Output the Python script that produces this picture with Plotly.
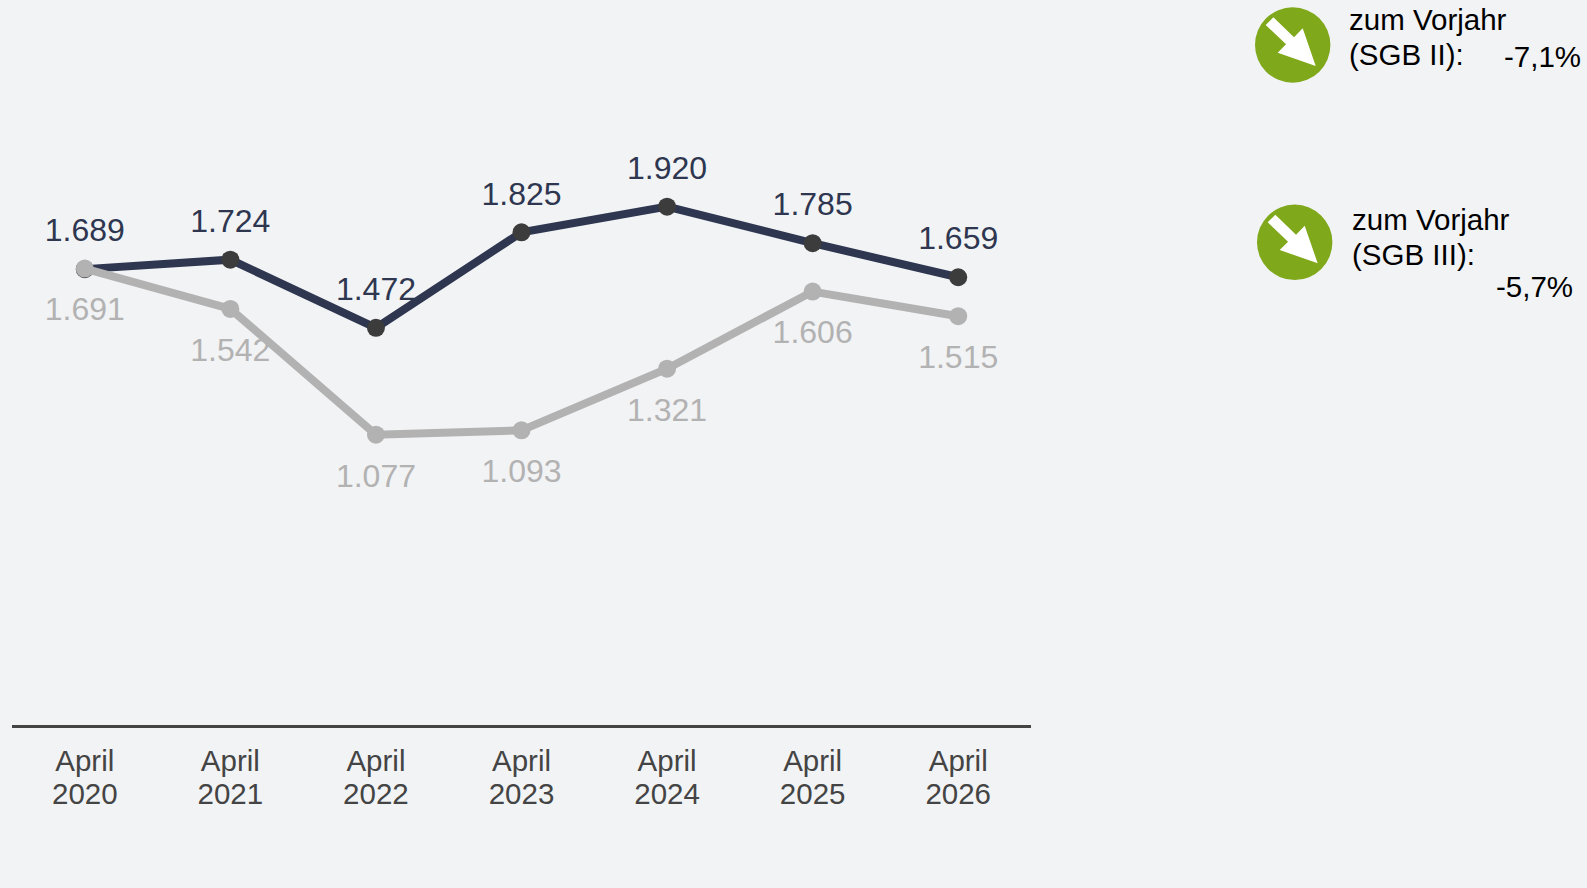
import plotly.graph_objects as go

years = [2020, 2021, 2022, 2023, 2024, 2025, 2026]
tick_month = ["April"] * 7
tick_year = [str(y) for y in years]
sgb2 = [1689, 1724, 1472, 1825, 1920, 1785, 1659]
sgb3 = [1691, 1542, 1077, 1093, 1321, 1606, 1515]
label2 = ["1.689", "1.724", "1.472", "1.825", "1.920", "1.785", "1.659"]
label3 = ["1.691", "1.542", "1.077", "1.093", "1.321", "1.606", "1.515"]

W, H = 1587, 888
L, R, T, B = 12, 1031, 185, 725
FONT = "Liberation Sans"
BG = "#F2F3F5"
DARK = "#2E3650"
MARK = "#3C3C3C"
GRAY = "#B2B2B2"
GREEN = "#7FA81B"
TICK = "#444444"

def px(x):
    return (x - L) / (R - L)

def py(y):
    return (B - y) / (B - T)

fig = go.Figure()
fig.add_trace(go.Scatter(
    x=years, y=sgb2, xaxis="x", yaxis="y", mode="markers+text",
    text=label2, textposition="top center",
    textfont=dict(family=FONT, size=32, color=DARK),
    marker=dict(size=30, opacity=0), cliponaxis=False, showlegend=False, hoverinfo="skip",
))
fig.add_trace(go.Scatter(
    x=years, y=sgb3, xaxis="x", yaxis="y", mode="markers+text",
    text=label3, textposition="bottom center",
    textfont=dict(family=FONT, size=32, color=GRAY),
    marker=dict(size=43, opacity=0), cliponaxis=False, showlegend=False, hoverinfo="skip",
))
fig.add_trace(go.Scatter(
    x=years, y=sgb2, xaxis="x", yaxis="y", mode="lines+markers",
    line=dict(color=DARK, width=8),
    marker=dict(color=MARK, size=18), cliponaxis=False, showlegend=False,
))
fig.add_trace(go.Scatter(
    x=years, y=sgb3, xaxis="x2", yaxis="y", mode="lines+markers",
    line=dict(color=GRAY, width=8),
    marker=dict(color=GRAY, size=18), cliponaxis=False, showlegend=False,
))

shapes = []
arrow = [(-81, -60), (-58, -83), (4, -23), (30, -50), (69, 63), (-45, 23), (-20, -2)]
for cx, cy in [(1292.7, 45), (1294.7, 242.3)]:
    shapes.append(dict(type="circle", xref="paper", yref="paper", layer="above",
                       x0=px(cx - 37.7), x1=px(cx + 37.7), y0=py(cy + 37.7), y1=py(cy - 37.7),
                       fillcolor=GREEN, line=dict(width=0)))
    pts = [(px(cx + a / 3), py(cy + b / 3)) for a, b in arrow]
    path = "M " + " L ".join(f"{a:.5f} {b:.5f}" for a, b in pts) + " Z"
    shapes.append(dict(type="path", xref="paper", yref="paper", layer="above", path=path,
                       fillcolor="#FFFFFF", line=dict(width=0)))

side_text = [
    ("zum Vorjahr", 1348, 19.5), ("(SGB II):", 1348, 54.5), ("-7,1%", 1503, 56.5),
    ("zum Vorjahr", 1350.5, 219), ("(SGB III):", 1351, 254), ("-5,7%", 1495, 286),
]
annotations = [dict(text=t, xref="paper", yref="paper", x=px(x), y=py(y), xanchor="left",
                    yanchor="middle", showarrow=False, borderpad=0,
                    font=dict(family=FONT, size=29.5, color="#000000"))
               for t, x, y in side_text]

xbase = dict(type="linear", range=[2019.5, 2026.5], tickmode="array", tickvals=years,
             showgrid=False, zeroline=False, ticks="", tickangle=0,
             tickfont=dict(family=FONT, size=29.5, color=TICK))
fig.update_layout(
    width=W, height=H, paper_bgcolor=BG, plot_bgcolor=BG,
    margin=dict(l=L, r=W - R, t=T, b=H - B, pad=0), showlegend=False,
    xaxis=dict(**xbase, ticktext=tick_month, ticklabelstandoff=8,
               showline=True, linecolor="#444444", linewidth=3),
    xaxis2=dict(**xbase, ticktext=tick_year, overlaying="x", anchor="y", side="bottom",
                ticklabelstandoff=48, showline=False),
    yaxis=dict(range=[3.7, 2000], visible=False, fixedrange=True),
    shapes=shapes, annotations=annotations,
)
fig.write_html("out.html", config=dict(displayModeBar=False),
               post_script="document.body.style.margin='0';document.body.style.background='#F2F3F5';")
